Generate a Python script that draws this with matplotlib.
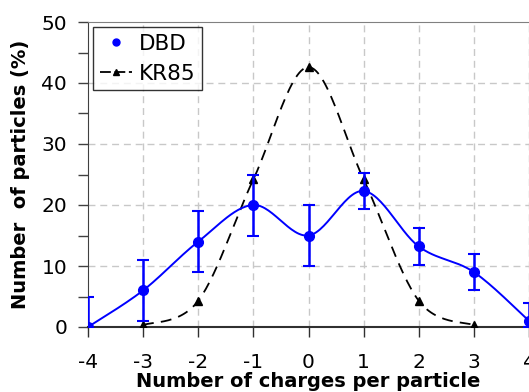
import numpy as np
import matplotlib
matplotlib.use("Agg")
import matplotlib.pyplot as plt
from matplotlib.lines import Line2D

plt.rcParams['font.family'] = ['DejaVu Sans']
plt.rcParams['axes.unicode_minus'] = False

# data
charges = [-4, -3, -2, -1, 0, 1, 2, 3, 4]
dbd = [0, 6, 14, 20, 15, 22.3, 13.2, 9, 1]
dbd_err = [5, 5, 5, 5, 5, 3, 3, 3, 3]
kr_charges = [-3, -2, -1, 0, 1, 2, 3]
kr85 = [0.3, 4.3, 24.2, 42.6, 24.2, 4.3, 0.3]


def lisser(x, y, n=30):
    # smoothed line like the spreadsheet one (catmull-rom via bezier)
    x = np.asarray(x, float)
    y = np.asarray(y, float)
    pts = np.column_stack([x, y])
    ext = np.vstack([pts[0], pts, pts[-1]])
    out = []
    t = np.linspace(0, 1, n)[:, None]
    for i in range(1, len(ext) - 2):
        p0, p1, p2, p3 = ext[i - 1], ext[i], ext[i + 1], ext[i + 2]
        c1 = p1 + (p2 - p0) / 6
        c2 = p2 - (p3 - p1) / 6
        seg = ((1 - t) ** 3) * p1 + 3 * ((1 - t) ** 2) * t * c1 + 3 * (1 - t) * t ** 2 * c2 + t ** 3 * p2
        out.append(seg if i == 1 else seg[1:])
    out = np.vstack(out)
    return out[:, 0], out[:, 1]


fig = plt.figure(figsize=(5.29, 3.92), dpi=100)
ax = fig.add_axes([88 / 529, 1 - 327 / 392, 1 - 88 / 529, 305 / 392])

# grid
for xv in range(-3, 5):
    ax.axvline(xv, color="#c8c8c8", lw=1, ls=(0, (5, 3.5)), zorder=0)
for yv in [10, 20, 30, 40]:
    ax.axhline(yv, color="#c8c8c8", lw=1, ls=(0, (5, 3.5)), zorder=0)

# KR85
xs, ys = lisser(kr_charges, kr85)
ax.plot(xs, ys, color="black", lw=1.3, ls=(0, (6, 4)), zorder=3)
ax.plot(kr_charges, kr85, ls="none", marker="^", ms=5.5, color="black", zorder=4)

# DBD
xs, ys = lisser(charges, dbd)
ax.plot(xs, ys, color="blue", lw=1.4, zorder=5)
low = [min(e, v) for e, v in zip(dbd_err, dbd)]
ax.errorbar(charges, dbd, yerr=[low, dbd_err], fmt="o", color="blue", ms=7,
            elinewidth=1.8, capsize=4, capthick=1.5, zorder=6)

ax.set_xlim(-4, 4)
ax.set_ylim(0, 50)
ax.set_xticks(range(-4, 5))
ax.set_yticks(range(0, 51, 10))
ax.set_yticks(range(5, 50, 10), minor=True)

ax.spines['top'].set_color("#808080")
ax.spines['right'].set_visible(False)
ax.spines['left'].set_color("#404040")
ax.spines['bottom'].set_color("#303030")
ax.spines['bottom'].set_linewidth(1.5)
ax.tick_params(axis="y", which="both", direction="out", length=7, width=1,
               color="#404040", labelsize=14.5, pad=8)
ax.tick_params(axis="x", direction="out", length=7, width=1, color="#303030",
               labelsize=14.5, pad=12)

ax.set_xlabel("Number of charges per particle", fontsize=14, fontweight="bold", labelpad=0)
ax.set_ylabel("Number  of particles (%)", fontsize=14, fontweight="bold", labelpad=8)

poignees = [
    Line2D([], [], ls="none", marker="o", color="blue", ms=5),
    Line2D([], [], ls=(0, (6, 2)), marker="^", color="black", ms=5, lw=1.3),
]
leg = ax.legend(poignees, ["DBD", "KR85"], loc="upper left", fontsize=15.5,
                frameon=True, fancybox=False, edgecolor="black",
                borderpad=0.3, handlelength=1.5, handletextpad=0.3,
                labelspacing=0.45, borderaxespad=0.25)
leg.get_frame().set_linewidth(1)

fig.savefig("out.png", dpi=100)
